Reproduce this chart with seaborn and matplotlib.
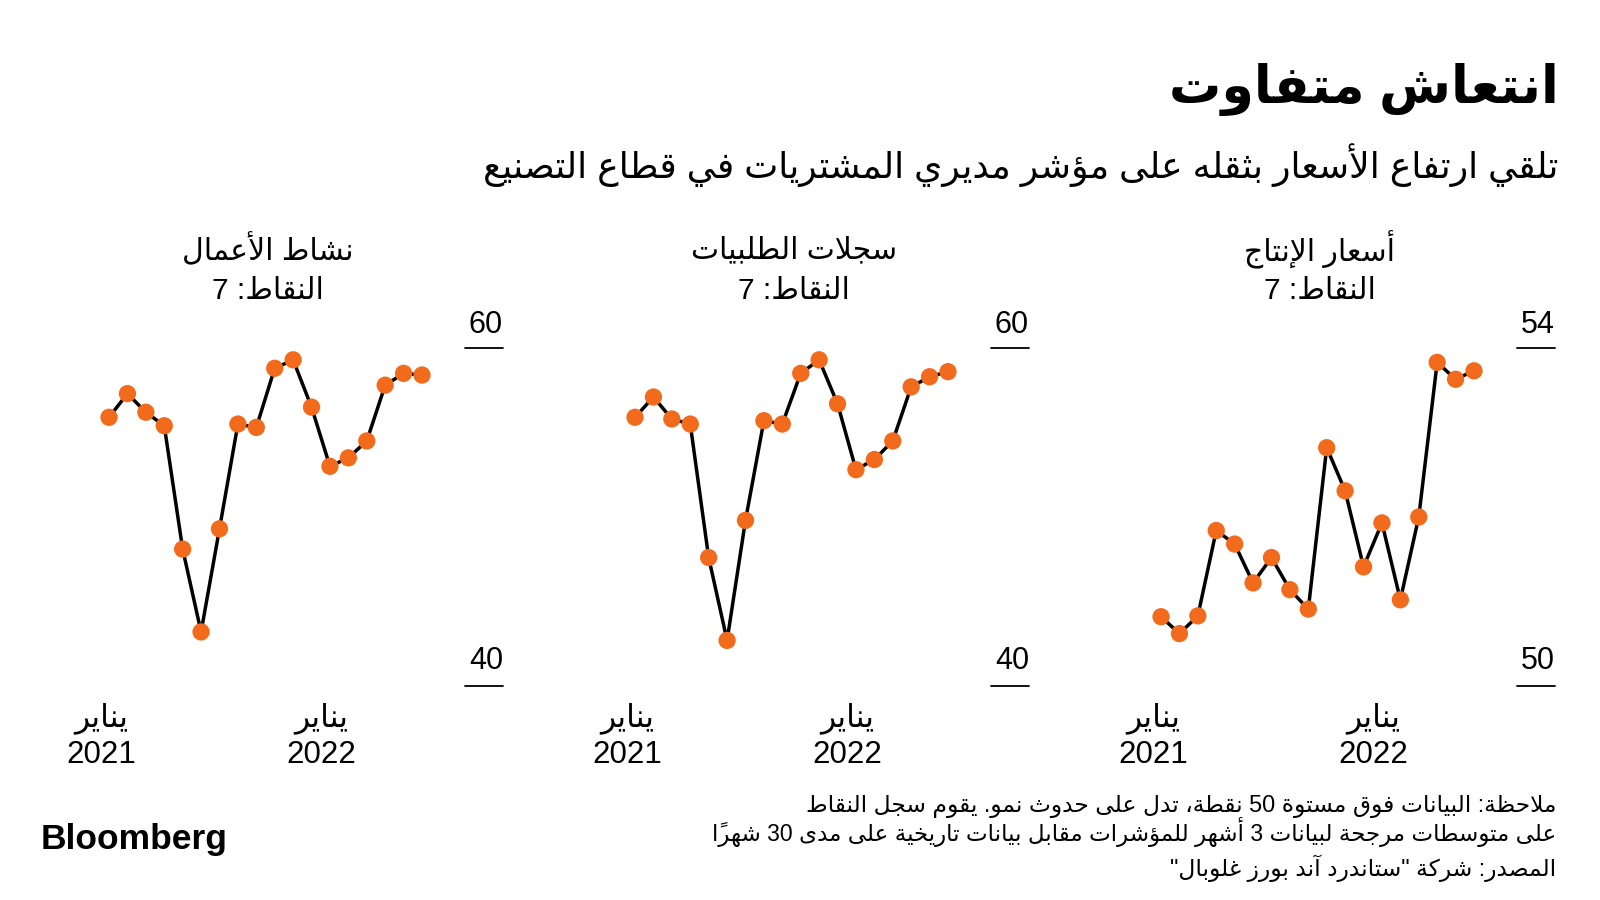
import re
import numpy as np
import pandas as pd
import matplotlib
matplotlib.use("Agg")
import matplotlib.pyplot as plt
import seaborn as sns

# ---------------- data ----------------
months = pd.period_range("2021-01", periods=18, freq="M")
business_activity = [55.9, 57.3, 56.2, 55.4, 48.1, 43.2, 49.3, 55.5, 55.3,
                     58.8, 59.3, 56.5, 53.0, 53.5, 54.5, 57.8, 58.5, 58.4]
order_books = [55.9, 57.1, 55.8, 55.5, 47.6, 42.7, 49.8, 55.7, 55.5,
               58.5, 59.3, 56.7, 52.8, 53.4, 54.5, 57.7, 58.3, 58.6]
output_prices = [50.82, 50.62, 50.83, 51.84, 51.68, 51.22, 51.52, 51.14, 50.91,
                 52.82, 52.31, 51.41, 51.93, 51.02, 52.00, 53.83, 53.63, 53.73]

panel_titles = ["نشاط الأعمال", "سجلات الطلبيات", "أسعار الإنتاج"]
panel_sub = "النقاط: 7"
panel_ylims = [(40, 60), (40, 60), (50, 54)]
x_tick_pos = [-0.4, 11.55]
x_tick_month = "يناير"
x_tick_years = ["2021", "2022"]

title = "انتعاش متفاوت"
subtitle = "تلقي ارتفاع الأسعار بثقله على مؤشر مديري المشتريات في قطاع التصنيع"
note_lines = [
    "ملاحظة: البيانات فوق مستوة 50 نقطة، تدل على حدوث نمو. يقوم سجل النقاط",
    "على متوسطات مرجحة لبيانات 3 أشهر للمؤشرات مقابل بيانات تاريخية على مدى 30 شهراً",
]
source = "المصدر: شركة \"ستاندرد آند بورز غلوبال\""

# ---------------- minimal Arabic shaping + RTL ordering ----------------
_specs = [("\u0621", 0xFE80, 1), ("\u0622", 0xFE81, 2), ("\u0623", 0xFE83, 2),
          ("\u0624", 0xFE85, 2), ("\u0625", 0xFE87, 2), ("\u0626", 0xFE89, 4),
          ("\u0627", 0xFE8D, 2), ("\u0628", 0xFE8F, 4), ("\u0629", 0xFE93, 2),
          ("\u062A", 0xFE95, 4), ("\u062B", 0xFE99, 4), ("\u062C", 0xFE9D, 4),
          ("\u062D", 0xFEA1, 4), ("\u062E", 0xFEA5, 4), ("\u062F", 0xFEA9, 2),
          ("\u0630", 0xFEAB, 2), ("\u0631", 0xFEAD, 2), ("\u0632", 0xFEAF, 2),
          ("\u0633", 0xFEB1, 4), ("\u0634", 0xFEB5, 4), ("\u0635", 0xFEB9, 4),
          ("\u0636", 0xFEBD, 4), ("\u0637", 0xFEC1, 4), ("\u0638", 0xFEC5, 4),
          ("\u0639", 0xFEC9, 4), ("\u063A", 0xFECD, 4), ("\u0641", 0xFED1, 4),
          ("\u0642", 0xFED5, 4), ("\u0643", 0xFED9, 4), ("\u0644", 0xFEDD, 4),
          ("\u0645", 0xFEE1, 4), ("\u0646", 0xFEE5, 4), ("\u0647", 0xFEE9, 4),
          ("\u0648", 0xFEED, 2), ("\u0649", 0xFEEF, 2), ("\u064A", 0xFEF1, 4)]
FORMS = {c: tuple(chr(s + k) for k in range(n)) for c, s, n in _specs}
LAM_ALEF = {"\u0622": ("\uFEF5", "\uFEF6"), "\u0623": ("\uFEF7", "\uFEF8"),
            "\u0625": ("\uFEF9", "\uFEFA"), "\u0627": ("\uFEFB", "\uFEFC")}


def _transparent(c):
    return "\u064B" <= c <= "\u0652" or c == "\u0670"


def _joining(c):
    return (c in FORMS and len(FORMS[c]) > 1) or c == "\u0640"


def _dual(c):
    return (c in FORMS and len(FORMS[c]) == 4) or c == "\u0640"


def shape(text):
    ch = list(text)
    n = len(ch)
    out = []

    def prev_letter(i):
        j = i - 1
        while j >= 0 and _transparent(ch[j]):
            j -= 1
        return ch[j] if j >= 0 else None

    def next_idx(i):
        j = i + 1
        while j < n and _transparent(ch[j]):
            j += 1
        return j

    i = 0
    while i < n:
        c = ch[i]
        if c in FORMS:
            p = prev_letter(i)
            pj = p is not None and _dual(p)
            j = next_idx(i)
            if c == "\u0644" and j < n and ch[j] in LAM_ALEF:
                iso, fin = LAM_ALEF[ch[j]]
                out.append(fin if pj else iso)
                out.extend(ch[i + 1:j])
                i = j + 1
                continue
            nx = ch[j] if j < n else None
            nj = _dual(c) and nx is not None and _joining(nx)
            f = FORMS[c]
            if len(f) == 1:
                g = f[0]
            elif len(f) == 2:
                g = f[1] if pj else f[0]
            else:
                g = f[3] if (pj and nj) else f[1] if pj else f[2] if nj else f[0]
            out.append(g)
        else:
            out.append(c)
        i += 1
    return "".join(out)


def ar(text):
    s = shape(text)
    runs = re.findall(r"[0-9A-Za-z]+|[^0-9A-Za-z][\u064B-\u0652\u0670]*", s)
    return "".join(reversed(runs))


# ---------------- style ----------------
sns.set_theme(style="white")
plt.rcParams["font.family"] = ["Liberation Sans", "DejaVu Sans"]
ORANGE = "#F26A1B"

fig = plt.figure(figsize=(16, 9), dpi=100)
fig.patch.set_facecolor("white")

series = [business_activity, order_books, output_prices]
lefts = [63 / 1600, 589 / 1600, 1115 / 1600]
bottom = 1 - 686 / 900
height = (686 - 348) / 900
width = 440 / 1600

for k, vals in enumerate(series):
    d = pd.DataFrame({"month": np.arange(len(months)), "value": vals})
    ax = fig.add_axes([lefts[k], bottom, width, height])
    sns.lineplot(data=d, x="month", y="value", ax=ax, color="black", lw=2.5,
                 zorder=2)
    sns.scatterplot(data=d, x="month", y="value", ax=ax, color=ORANGE, s=155,
                    edgecolor="none", zorder=3, clip_on=False)
    lo, hi = panel_ylims[k]
    ax.set_ylim(lo, hi)
    ax.set_xlim(-2.5, 21.4)
    for sp in ax.spines.values():
        sp.set_visible(False)
    ax.set_yticks([])
    ax.set_xlabel("")
    ax.set_ylabel("")
    ax.set_xticks(x_tick_pos)
    ax.set_xticklabels([ar(x_tick_month) + "\n" + y for y in x_tick_years],
                       fontsize=22.5, linespacing=1.25)
    ax.tick_params(axis="x", length=0, pad=12, colors="black")
    for v, off in ((hi, 11), (lo, 12)):
        ax.axhline(v, xmin=0.913, xmax=1.0, color="black", lw=1.3, clip_on=False)
        ax.annotate(str(v), xy=(1.0, v), xycoords=("axes fraction", "data"),
                    xytext=(0, off), textcoords="offset points", ha="right",
                    va="baseline", fontsize=22, color="black")
    ax.text(0.465, 1.29, ar(panel_titles[k]), transform=ax.transAxes,
            ha="center", va="center", fontsize=21.5, color="black")
    ax.text(0.465, 1.168, ar(panel_sub), transform=ax.transAxes,
            ha="center", va="center", fontsize=21.5, color="black")

fig.text(0.974, 1 - 90 / 900, ar(title), ha="right", va="center",
         fontsize=37.5, fontweight="bold", color="black")
fig.text(0.974, 1 - 165 / 900, ar(subtitle), ha="right", va="center",
         fontsize=26, color="black")
fig.text(0.9725, 1 - 806 / 900, ar(note_lines[0]), ha="right", va="center",
         fontsize=16.8, color="black")
fig.text(0.9725, 1 - 832 / 900, ar(note_lines[1]), ha="right", va="center",
         fontsize=16.6, color="black")
fig.text(0.9725, 1 - 868 / 900, ar(source), ha="right", va="center",
         fontsize=16.8, color="black")
fig.text(41 / 1600, 1 - 839 / 900, "Bloomberg", ha="left", va="center",
         fontsize=25.5, fontweight="bold", color="black")

fig.savefig("out.png", dpi=100, facecolor="white")
